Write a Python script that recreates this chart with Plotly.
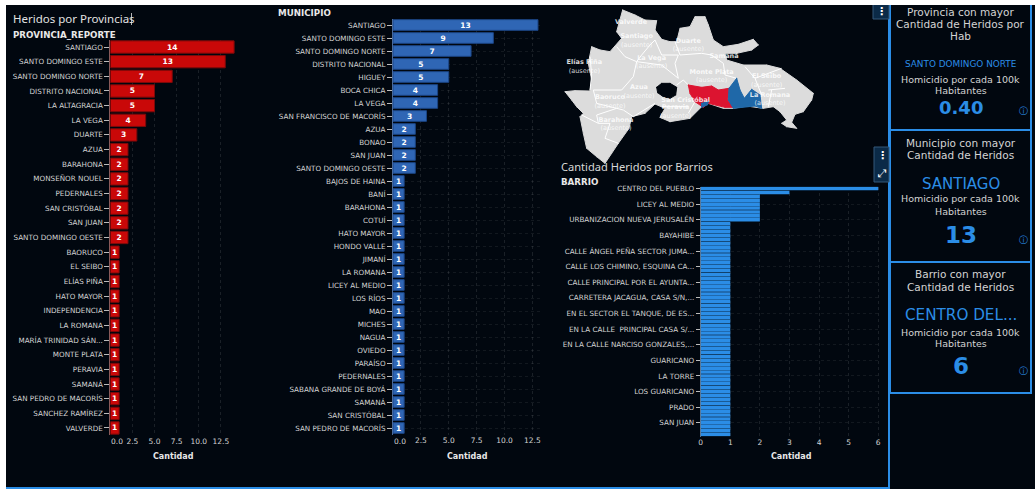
from __future__ import annotations

import plotly.graph_objects as go

WIDTH = 1035
HEIGHT = 489
BG = "#01070f"
BLUE = "#2b8de6"
TEXT = "#d4d4d4"
FONT = "DejaVu Sans"

provincias = [
    "SANTIAGO", "SANTO DOMINGO ESTE", "SANTO DOMINGO NORTE", "DISTRITO NACIONAL", "LA ALTAGRACIA",
    "LA VEGA", "DUARTE", "AZUA", "BARAHONA", "MONSEÑOR NOUEL", "PEDERNALES", "SAN CRISTÓBAL",
    "SAN JUAN", "SANTO DOMINGO OESTE", "BAORUCO", "EL SEIBO", "ELÍAS PIÑA", "HATO MAYOR",
    "INDEPENDENCIA", "LA ROMANA", "MARÍA TRINIDAD SÁN...", "MONTE PLATA", "PERAVIA", "SAMANÁ",
    "SAN PEDRO DE MACORÍS", "SANCHEZ RAMÍREZ", "VALVERDE",
]
heridos_provincia = [14, 13, 7, 5, 5, 4, 3, 2, 2, 2, 2, 2, 2, 2, 1, 1, 1, 1, 1, 1, 1, 1, 1, 1, 1, 1, 1]

municipios = [
    "SANTIAGO", "SANTO DOMINGO ESTE", "SANTO DOMINGO NORTE", "DISTRITO NACIONAL", "HIGUEY", "BOCA CHICA",
    "LA VEGA", "SAN FRANCISCO DE MACORÍS", "AZUA", "BONAO", "SAN JUAN", "SANTO DOMINGO OESTE",
    "BAJOS DE HAINA", "BANÍ", "BARAHONA", "COTUÍ", "HATO MAYOR", "HONDO VALLE", "JIMANÍ", "LA ROMANA",
    "LICEY AL MEDIO", "LOS RÍOS", "MAO", "MICHES", "NAGUA", "OVIEDO", "PARAÍSO", "PEDERNALES",
    "SABANA GRANDE DE BOYÁ", "SAMANÁ", "SAN CRISTÓBAL", "SAN PEDRO DE MACORÍS",
]
heridos_municipio = [13, 9, 7, 5, 5, 4, 4, 3, 2, 2, 2, 2, 1, 1, 1, 1, 1, 1, 1, 1,
                     1, 1, 1, 1, 1, 1, 1, 1, 1, 1, 1, 1]

# only every fourth barrio has a visible label in the picture
barrios_visibles = [
    "CENTRO DEL PUEBLO", "LICEY AL MEDIO", "URBANIZACION NUEVA JERUSALÉN", "BAYAHIBE",
    "CALLE ÁNGEL PEÑA SECTOR JUMA...", "CALLE LOS CHIMINO, ESQUINA CA...", "CALLE PRINCIPAL POR EL AYUNTA...",
    "CARRETERA JACAGUA, CASA S/N,...", "EN EL SECTOR EL TANQUE, DE ES...", "EN LA CALLE  PRINCIPAL CASA S/...",
    "EN LA CALLE NARCISO GONZALES,...", "GUARICANO", "LA TORRE", "LOS GUARICANO", "PRADO", "SAN JUAN",
]
heridos_barrio = [
    6, 3, 2, 2, 2, 2, 2, 2, 2, 1, 1, 1, 1, 1, 1, 1,
    1, 1, 1, 1, 1, 1, 1, 1, 1, 1, 1, 1, 1, 1, 1, 1,
    1, 1, 1, 1, 1, 1, 1, 1, 1, 1, 1, 1, 1, 1, 1, 1,
    1, 1, 1, 1, 1, 1, 1, 1, 1, 1, 1, 1, 1, 1, 1, 1,
]

ticks_medios = [0, 2.5, 5, 7.5, 10, 12.5]
ticks_medios_texto = ["", "2.5", "5.0", "7.5", "10.0", "12.5"]
ticks_barrio = [0, 1, 2, 3, 4, 5, 6]

# map outlines, traced in map units off the picture
mapa_contorno_x = [203, 240, 270, 305, 300, 320, 345, 365, 375, 405, 420, 450, 460, 475, 505, 550, 595, 610, 590,
                   545, 510, 515, 565, 635, 675, 725, 775, 770, 745, 720, 710, 725, 695, 680, 695, 675, 655, 625,
                   575, 535, 505, 460, 440, 405, 345, 315, 330, 300, 270, 230, 222, 190, 170, 150, 125, 95, 85, 75,
                   85, 65, 50, 30, 60, 105, 110, 100, 110, 135, 165, 200, 185, 203]
mapa_contorno_y = [30, 45, 60, 62, 90, 118, 125, 125, 85, 80, 50, 50, 75, 120, 140, 133, 118, 135, 150,
                   160, 160, 180, 195, 195, 205, 240, 280, 300, 335, 343, 367, 385, 380, 370, 360, 335, 320, 325,
                   318, 325, 325, 310, 320, 355, 365, 352, 325, 312, 340, 350, 385, 430, 460, 490, 470, 445, 400, 350,
                   340, 320, 300, 275, 272, 273, 240, 190, 140, 150, 155, 115, 95, 30]
hueco_x = [305, 320, 345, 365, 362, 345, 325, 308, 305]
hueco_y = [262, 250, 250, 262, 285, 295, 290, 278, 262]
rojo_x = [400, 440, 470, 490, 522, 518, 535, 510, 460, 445, 420, 405, 400]
rojo_y = [255, 262, 258, 270, 265, 300, 322, 322, 310, 322, 305, 280, 255]
azul_x = [545, 555, 568, 590, 615, 620, 600, 535, 520, 522, 545]
azul_y = [235, 270, 295, 268, 285, 325, 318, 325, 300, 265, 235]
azul_chico_x = [440, 460, 458, 440, 440]
azul_chico_y = [310, 304, 314, 322, 310]
limites = [
    [(185, 140), (210, 170), (245, 185), (260, 165), (285, 135), (300, 120)],
    [(245, 185), (235, 230), (200, 270), (115, 270), (125, 310), (185, 325), (205, 330), (235, 350), (300, 310)],
    [(105, 170), (110, 225), (105, 270)],
    [(245, 185), (320, 195), (370, 235), (360, 190), (370, 165), (320, 165), (300, 120)],
    [(360, 125), (375, 165), (440, 160), (470, 165), (505, 190), (510, 225), (545, 235)],
    [(80, 345), (130, 370), (165, 370), (150, 415), (190, 430)],
    [(570, 200), (600, 235), (620, 285)],
    [(600, 235), (680, 205)],
    [(640, 270), (690, 265)],
    [(640, 320), (650, 270)],
    [(365, 255), (385, 240), (400, 255)],
    [(420, 305), (400, 340)],
    [(320, 320), (400, 320)],
    [(130, 370), (125, 345), (185, 325)],
]
mapa_nombres = ["Valverde", "Santiago", "Duarte", "La Vega", "Elías Piña", "Azua", "Baoruco", "Barahona",
                "Monte Plata", "Peravia", "San Cristóbal", "Samaná", "El Seibo", "La Romana"]
mapa_nombres_x = [228, 245, 400, 290, 88, 252, 165, 183, 470, 362, 392, 507, 635, 645]
mapa_nombres_y = [68, 110, 125, 175, 188, 263, 293, 362, 217, 323, 300, 170, 230, 287]
ausente_x = [245, 400, 290, 88, 252, 165, 183, 470, 362, 635, 645]
ausente_y = [135, 148, 200, 213, 288, 318, 385, 242, 348, 255, 310]


def dom_x(left: float, right: float) -> list[float]:
    return [left / WIDTH, right / WIDTH]


def dom_y(top: float, bottom: float) -> list[float]:
    return [1 - bottom / HEIGHT, 1 - top / HEIGHT]


def label(x: float, y: float, text: str, size: float = 8, color: str = TEXT, anchor: str = "center",
          family: str = FONT) -> dict:
    return dict(
        x=x / WIDTH, y=1 - y / HEIGHT, xref="paper", yref="paper", text=text, showarrow=False,
        xanchor=anchor, yanchor="middle", font=dict(size=size, color=color, family=family),
    )


def rect(x0: float, y0: float, x1: float, y1: float, fill: str | None = None, line: str | None = None,
         width: float = 2) -> dict:
    return dict(
        type="rect", xref="paper", yref="paper", x0=x0 / WIDTH, x1=x1 / WIDTH,
        y0=1 - y1 / HEIGHT, y1=1 - y0 / HEIGHT,
        fillcolor=fill if fill else "rgba(0,0,0,0)", line=dict(color=line if line else "rgba(0,0,0,0)", width=width if line else 0),
    )


fig = go.Figure()

fig.add_trace(go.Bar(
    x=heridos_provincia, y=provincias, orientation="h", xaxis="x", yaxis="y", width=0.84,
    marker=dict(color="#c90808", line=dict(color="#7d0a0a", width=1)),
    text=heridos_provincia, textposition="inside", insidetextanchor="middle", textangle=0, constraintext="none",
    textfont=dict(size=7.5, color="white", family=FONT, weight="bold"), showlegend=False,
))
fig.add_trace(go.Bar(
    x=heridos_municipio, y=municipios, orientation="h", xaxis="x2", yaxis="y2", width=0.82,
    marker=dict(color="#2f66b5", line=dict(color="#1c4585", width=1)),
    text=heridos_municipio, textposition="inside", insidetextanchor="middle", textangle=0, constraintext="none",
    textfont=dict(size=7.5, color="white", family=FONT, weight="bold"), showlegend=False,
))
fig.add_trace(go.Bar(
    x=heridos_barrio, y=list(range(len(heridos_barrio))), orientation="h", xaxis="x3", yaxis="y3", width=0.92,
    marker=dict(color=BLUE, line=dict(width=0)), showlegend=False,
))

# map layers
polygons = [
    (mapa_contorno_x, mapa_contorno_y, "#dcdcdc"),
    (hueco_x, hueco_y, BG),
    (rojo_x, rojo_y, "#dc1430"),
    (azul_x, azul_y, "#1f68a8"),
    (azul_chico_x, azul_chico_y, "#1f68a8"),
]
limite_x: list = []
limite_y: list = []
for tramo in limites:
    limite_x += [p[0] for p in tramo] + [None]
    limite_y += [p[1] for p in tramo] + [None]
for px, py, color in polygons[:2]:
    fig.add_trace(go.Scatter(x=px, y=py, mode="lines+markers", fill="toself", fillcolor=color,
                             line=dict(color=color, width=1, simplify=False), marker=dict(color=color, size=1),
                             xaxis="x4", yaxis="y4", showlegend=False))
fig.add_trace(go.Scatter(x=limite_x, y=limite_y, mode="lines", line=dict(color="white", width=1, simplify=False),
                         xaxis="x4", yaxis="y4", showlegend=False))
for px, py, color in polygons[2:]:
    fig.add_trace(go.Scatter(x=px, y=py, mode="lines+markers", fill="toself", fillcolor=color,
                             line=dict(color=color, width=1, simplify=False), marker=dict(color=color, size=1),
                             xaxis="x4", yaxis="y4", showlegend=False))
fig.add_trace(go.Scatter(x=mapa_nombres_x, y=mapa_nombres_y, mode="text", text=mapa_nombres,
                         textfont=dict(size=6.5, color="rgba(255,255,255,0.85)", family=FONT, weight="bold"),
                         xaxis="x4", yaxis="y4", showlegend=False))
fig.add_trace(go.Scatter(x=ausente_x, y=ausente_y, mode="text", text=["(ausente)"] * len(ausente_x),
                         textfont=dict(size=6.5, color="rgba(255,255,255,0.8)", family=FONT),
                         xaxis="x4", yaxis="y4", showlegend=False))

value_axis = dict(
    automargin=False, showgrid=True, gridcolor="rgba(255,255,255,0.1)", griddash="dot", gridwidth=1, zeroline=False,
    showline=False, ticks="", tickfont=dict(size=7.5, color=TEXT, family=FONT),
)
cat_axis = dict(
    automargin=False, showgrid=True, gridcolor="rgba(255,255,255,0.07)", griddash="dot", zeroline=False, showline=True,
    ticks="outside", ticklen=5, tickwidth=1, tickfont=dict(size=7.2, color=TEXT, family=FONT),
)

fig.update_layout(
    width=WIDTH, height=HEIGHT, margin=dict(l=0, r=0, t=0, b=0), paper_bgcolor=BG, plot_bgcolor="rgba(0,0,0,0)",
    bargap=0.15,
    xaxis=dict(value_axis, domain=dom_x(110.3, 235), range=[0, 14.1], anchor="y",
               tickvals=ticks_medios, ticktext=ticks_medios_texto),
    yaxis=dict(cat_axis, domain=dom_y(39.7, 435.3), anchor="x", type="category", autorange="reversed",
               categoryorder="array", categoryarray=provincias, showgrid=False,
               linecolor="#8a5a5a", tickcolor="#bbbbbb", tickmode="linear"),
    xaxis2=dict(value_axis, domain=dom_x(393, 542), range=[0, 13.36], anchor="y2",
                tickvals=ticks_medios, ticktext=ticks_medios_texto),
    yaxis2=dict(cat_axis, domain=dom_y(18.5, 434.5), anchor="x2", type="category", autorange="reversed",
                categoryorder="array", categoryarray=municipios,
                linecolor="#4a6a9a", tickcolor="#bbbbbb", tickmode="linear"),
    xaxis3=dict(value_axis, domain=dom_x(700.7, 880), range=[0, 6.06], anchor="y3", tickvals=ticks_barrio),
    yaxis3=dict(cat_axis, domain=dom_y(186.6, 436.5), anchor="x3", range=[63.5, -0.5], ticklen=4,
                tickvals=list(range(0, 64, 4)), ticktext=barrios_visibles,
                linecolor="#5a7a9a", tickcolor="#bbbbbb"),
    xaxis4=dict(automargin=False, domain=dom_x(555, 895), range=[0, 1020], visible=False),
    yaxis4=dict(automargin=False, domain=dom_y(0, 180), range=[540, 0], visible=False),
)

annotations = [
    label(11, 19, "Heridos por Provincias", 11.5, "#e2e2e2", "left", "Noto Sans"),
    label(11, 34.5, "<b>PROVINCIA_REPORTE</b>", 8.7, "#e8e8e8", "left"),
    label(276, 13, "<b>MUNICIPIO</b>", 8.7, "#e8e8e8", "left"),
    label(559, 166, "Cantidad Heridos por Barrios", 11.1, "#d8d8d8", "left", "Noto Sans"),
    label(559, 181.5, "<b>BARRIO</b>", 8.7, "#e8e8e8", "left"),
    label(117, 441, "0.0", 7.5),
    label(400, 441, "0.0", 7.5),
    label(173, 456, "<b>Cantidad</b>", 8, "#e8e8e8"),
    label(467, 456, "<b>Cantidad</b>", 8, "#e8e8e8"),
    label(791, 456, "<b>Cantidad</b>", 8, "#e8e8e8"),
    # card 1
    label(960.5, 11.5, "Provincia con mayor", 10.5),
    label(960.5, 24, "Cantidad de Heridos por", 10.5),
    label(960.5, 36, "Hab", 10.5),
    label(960.5, 64, "SANTO DOMINGO NORTE", 8.9, BLUE),
    label(960.5, 79, "Homicidio por cada 100k", 9.5),
    label(960.5, 90, "Habitantes", 9.5),
    label(960.5, 107, "<b>0.40</b>", 18, BLUE),
    label(1023, 110.5, "ⓘ", 9, BLUE),
    # card 2
    label(960.5, 143, "Municipio con mayor", 10.5),
    label(960.5, 155, "Cantidad de Heridos", 10.5),
    label(960.5, 184, "SANTIAGO", 15, BLUE),
    label(960.5, 199, "Homicidio por cada 100k", 9.5),
    label(960.5, 211, "Habitantes", 9.5),
    label(960.5, 235, "<b>13</b>", 23, BLUE),
    label(1023, 240, "ⓘ", 9, BLUE),
    # card 3
    label(960.5, 274, "Barrio con mayor", 10.5),
    label(960.5, 287, "Cantidad de Heridos", 10.5),
    label(960.5, 315, "CENTRO DEL...", 15.2, BLUE),
    label(960.5, 332, "Homicidio por cada 100k", 9.5),
    label(960.5, 343, "Habitantes", 9.5),
    label(960.5, 366, "<b>6</b>", 23, BLUE),
    label(1023, 371, "ⓘ", 9, BLUE),
    # toolbar buttons
    label(881, 11, "<b>⋮</b>", 11, "white"),
    label(882, 155, "<b>⋮</b>", 11, "white"),
    label(882, 173, "⤢", 11, "white"),
]

shapes = [
    rect(3, 2, 889, 488, None, BLUE, 2),
    rect(890, 2, 1031, 130, None, BLUE, 2),
    rect(890, 130, 1031, 262, None, BLUE, 2),
    rect(890, 262, 1031, 393, None, BLUE, 2),
    rect(873, 4, 889, 19, "#0b2a47", "#34587a", 1),
    rect(874, 147, 889, 182, "#0b2a47", "#34587a", 1),
    rect(131, 13, 131.8, 25, "#e2e2e2"),
    rect(0, 0, 1035, 5, "white"),
    rect(0, 0, 6, 489, "white"),
]
fig.update_layout(annotations=annotations, shapes=shapes)

fig.write_html(
    "out.html",
    config={"displayModeBar": False},
    post_script="document.body.style.margin='0';document.body.style.overflow='hidden';",
)
